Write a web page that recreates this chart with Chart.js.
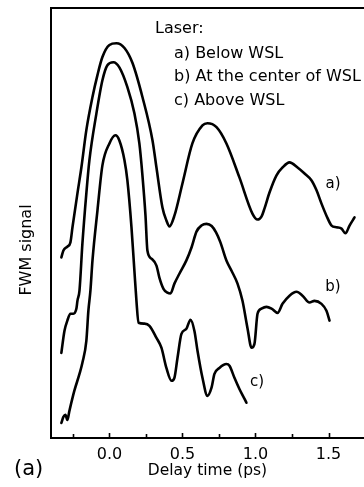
<!DOCTYPE html>
<html>
<head>
<meta charset="utf-8">
<script src="https://cdn.jsdelivr.net/npm/chart.js@4/dist/chart.umd.min.js"></script>
<style>
  html, body { margin: 0; padding: 0; background: #fff; }
  #wrap { width: 364px; height: 487px; }
</style>
</head>
<body>
<div id="wrap"><canvas id="c" width="364" height="487"></canvas></div>
<script>
// Delay time (ps) and FWM signal (arbitrary units, 0-100 full frame)
const timeA = [-0.329,-0.315,-0.288,-0.267,-0.253,-0.219,-0.192,-0.158,-0.116,-0.082,-0.048,0.000,0.048,0.103,0.158,0.226,0.295,0.322,0.363,0.390,0.411,0.445,0.500,0.568,0.637,0.671,0.733,0.801,0.890,0.979,1.014,1.041,1.062,1.096,1.144,1.185,1.233,1.288,1.336,1.384,1.418,1.452,1.486,1.521,1.555,1.589,1.616,1.644,1.678];
const sigA  = [42.0,43.6,44.5,45.5,49.0,56.9,62.9,71.6,79.3,84.4,88.6,91.4,91.8,90.7,87.2,79.3,69.2,62.9,53.6,50.6,49.2,51.7,59.2,68.5,72.7,73.2,72.3,68.5,60.6,52.2,50.8,51.5,53.4,57.1,61.1,62.9,64.1,62.9,61.5,59.9,57.6,54.5,51.7,49.4,49.0,48.7,47.6,49.4,51.3];

const timeB = [-0.329,-0.308,-0.288,-0.267,-0.247,-0.226,-0.219,-0.205,-0.185,-0.158,-0.137,-0.089,-0.048,-0.014,0.027,0.068,0.123,0.171,0.205,0.226,0.247,0.260,0.288,0.322,0.342,0.370,0.397,0.418,0.445,0.479,0.527,0.562,0.596,0.630,0.665,0.700,0.730,0.760,0.801,0.836,0.877,0.911,0.945,0.973,0.993,1.014,1.041,1.075,1.110,1.151,1.185,1.233,1.281,1.322,1.370,1.404,1.452,1.486,1.507];
const sigB  = [19.8,24.9,27.3,28.9,28.9,30.1,31.9,34.3,45.2,56.9,64.6,75.5,83.2,86.7,87.4,86.2,81.6,75.5,68.5,61.1,51.7,43.6,41.7,40.1,37.3,34.7,33.8,33.6,35.9,38.2,41.3,44.3,48.0,49.4,49.8,49.3,47.8,45.5,41.3,38.9,35.9,31.9,25.6,21.0,21.9,28.9,30.1,30.5,30.1,29.1,31.2,33.1,34.0,33.1,31.5,31.9,31.2,29.6,27.3];

const timeC = [-0.329,-0.315,-0.301,-0.288,-0.274,-0.240,-0.205,-0.185,-0.158,-0.144,-0.130,-0.116,-0.082,-0.048,0.000,0.041,0.068,0.103,0.123,0.151,0.171,0.185,0.199,0.240,0.274,0.322,0.356,0.390,0.425,0.445,0.466,0.493,0.527,0.555,0.582,0.603,0.637,0.671,0.699,0.719,0.753,0.801,0.822,0.856,0.890,0.925,0.938];
const sigC  = [3.5,4.9,5.4,4.2,6.3,11.0,14.9,17.5,22.6,29.6,34.3,41.3,52.9,63.4,68.5,70.4,69.2,64.6,59.9,49.0,38.9,31.9,26.8,26.6,26.1,23.3,21.0,16.3,13.3,14.0,18.6,24.2,25.4,27.5,24.9,20.3,14.0,9.8,11.7,14.9,16.3,17.2,16.8,14.0,11.4,9.1,8.2];

const xTicks = [-0.25, 0, 0.25, 0.5, 0.75, 1.0, 1.25, 1.5];
const xMajor = [0, 0.5, 1.0, 1.5];

const curveLabels = ['a)', 'b)', 'c)'];
const curveLabelX = [1.531, 1.531, 1.010];
const curveLabelY = [59.0, 35.0, 13.1];

const legendTitle = 'Laser:';
const legendLines = ['a) Below WSL', 'b) At the center of WSL', 'c) Above WSL'];

const yTitle = 'FWM signal';
const xTitle = 'Delay time (ps)';
const panelLabel = '(a)';

const FONT = "'DejaVu Sans', sans-serif";

function pts(t, s) { return t.map((x, i) => ({ x: x, y: s[i] })); }

const ds = (t, s) => ({
  data: pts(t, s),
  borderColor: '#000',
  borderWidth: 2.6,
  pointRadius: 0,
  fill: false,
  cubicInterpolationMode: 'monotone',
  borderJoinStyle: 'round',
  borderCapStyle: 'round'
});

const decor = {
  id: 'decor',
  afterDraw(chart) {
    const ctx = chart.ctx;
    const a = chart.chartArea;
    const xs = chart.scales.x, ys = chart.scales.y;
    ctx.save();
    // top frame line
    ctx.strokeStyle = '#000';
    ctx.lineWidth = 2;
    ctx.beginPath();
    ctx.moveTo(a.left - 1, a.top);
    ctx.lineTo(a.right, a.top);
    ctx.stroke();
    // inward tick marks
    ctx.lineWidth = 1.6;
    xTicks.forEach(v => {
      const px = Math.round(xs.getPixelForValue(v)) + 0.5;
      const len = xMajor.includes(v) ? 5 : 4;
      ctx.beginPath();
      ctx.moveTo(px, a.bottom);
      ctx.lineTo(px, a.bottom - len);
      ctx.stroke();
    });
    // legend block
    ctx.fillStyle = '#000';
    ctx.font = '16px ' + FONT;
    ctx.textBaseline = 'middle';
    ctx.textAlign = 'left';
    ctx.fillText(legendTitle, a.left + 104, a.top + 21);
    legendLines.forEach((s, i) => {
      ctx.fillText(s, a.left + 123, a.top + 45.5 + i * 23.7);
    });
    // curve labels
    ctx.textAlign = 'center';
    ctx.font = '15px ' + FONT;
    curveLabels.forEach((s, i) => {
      ctx.fillText(s, xs.getPixelForValue(curveLabelX[i]), ys.getPixelForValue(curveLabelY[i]));
    });
    // x title
    ctx.font = '15.5px ' + FONT;
    ctx.fillText(xTitle, (a.left + a.right) / 2, a.bottom + 33);
    // y title
    ctx.save();
    ctx.font = '16px ' + FONT;
    ctx.translate(27, 250);
    ctx.rotate(-Math.PI / 2);
    ctx.textAlign = 'center';
    ctx.textBaseline = 'middle';
    ctx.fillText(yTitle, 0, 0);
    ctx.restore();
    // panel label
    ctx.font = '21px ' + FONT;
    ctx.textAlign = 'left';
    ctx.textBaseline = 'middle';
    ctx.fillText(panelLabel, 14, 470);
    ctx.restore();
  }
};

new Chart(document.getElementById('c'), {
  type: 'line',
  data: { datasets: [ds(timeA, sigA), ds(timeB, sigB), ds(timeC, sigC)] },
  options: {
    responsive: false,
    animation: false,
    layout: { padding: { left: 51, right: 0, top: 8, bottom: 15 } },
    plugins: { legend: { display: false }, tooltip: { enabled: false } },
    scales: {
      x: {
        type: 'linear',
        min: -0.4,
        max: 1.743,
        afterBuildTicks: s => { s.ticks = xTicks.map(v => ({ value: v })); },
        grid: { display: false, drawTicks: false },
        border: { display: true, color: '#000', width: 2 },
        ticks: {
          color: '#000',
          font: { family: FONT, size: 16, lineHeight: 1 },
          padding: 9,
          maxRotation: 0,
          autoSkip: false,
          callback: v => (xMajor.includes(v) ? v.toFixed(1) : '')
        },
        title: { display: false }
      },
      y: {
        min: 0,
        max: 100,
        grid: { display: false, drawTicks: false },
        border: { display: true, color: '#000', width: 2 },
        ticks: { display: false }
      }
    }
  },
  plugins: [decor]
});
</script>
</body>
</html>
